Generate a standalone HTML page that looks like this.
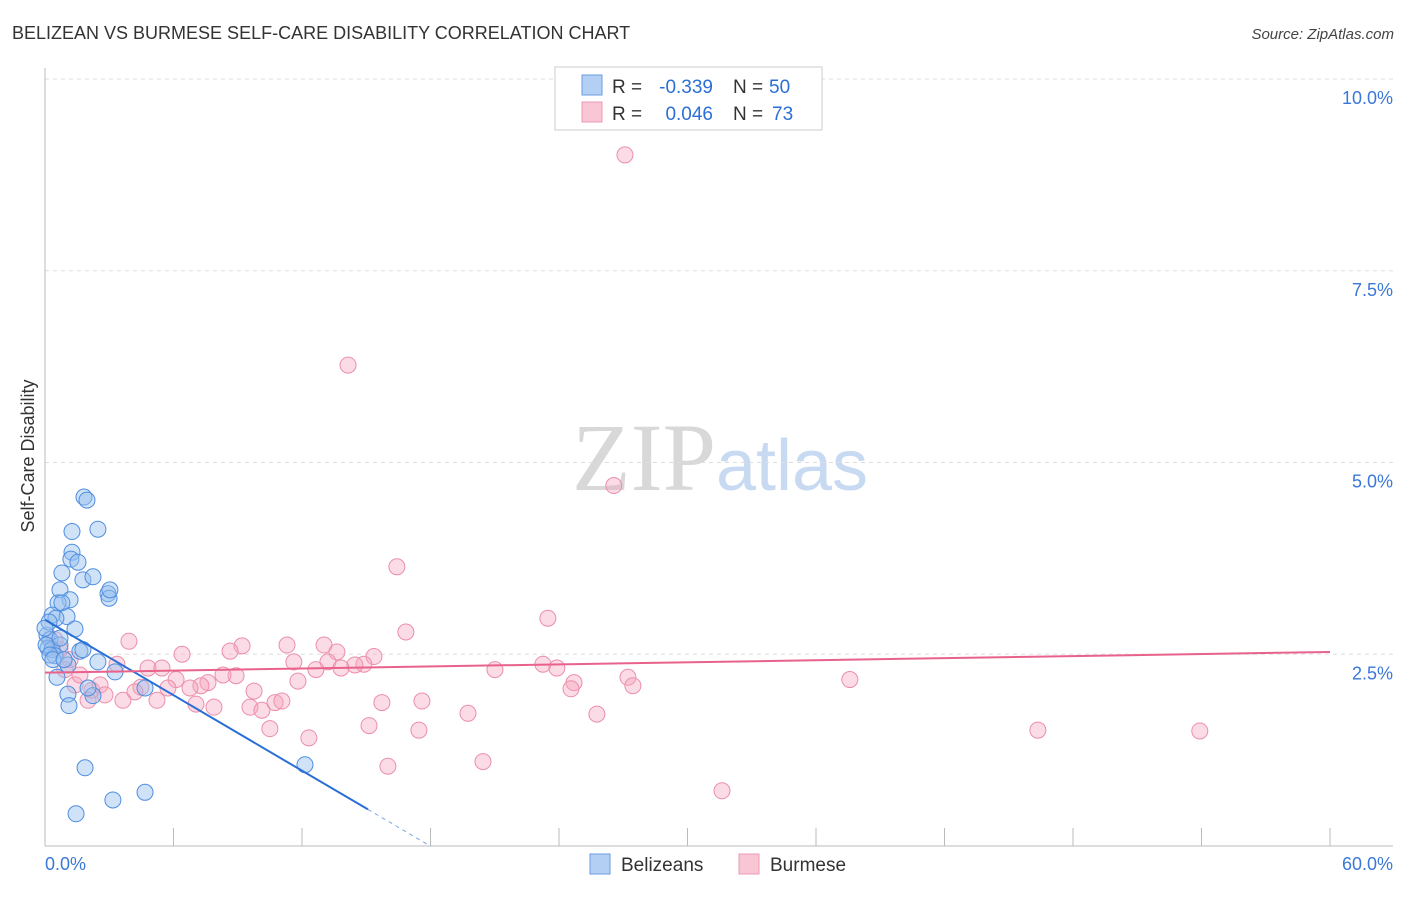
<!DOCTYPE html>
<html><head><meta charset="utf-8"><style>
body{margin:0;background:#fff;font-family:"Liberation Sans",sans-serif;}
svg text{font-family:"Liberation Sans",sans-serif;}
</style></head><body>
<svg id="chart" width="1406" height="892" viewBox="0 0 1406 892" xmlns="http://www.w3.org/2000/svg">
<text x="12" y="39" font-size="18" fill="#333">BELIZEAN VS BURMESE SELF-CARE DISABILITY CORRELATION CHART</text>
<text x="1394" y="39" font-size="15" fill="#444" font-style="italic" text-anchor="end">Source: ZipAtlas.com</text>
<text x="720" y="490" font-size="96" text-anchor="middle"><tspan fill="#d8d8d8" font-family="Liberation Serif,serif">ZIP</tspan><tspan fill="#c8daf2" font-size="72">atlas</tspan></text>
<g id="grid"></g><g id="axes"></g><g id="marks"></g>
<text transform="translate(34,456) rotate(-90)" font-size="18" fill="#333" text-anchor="middle">Self-Care Disability</text>
<g>
<rect x="555" y="67" width="267" height="63" fill="#fff" stroke="#ccc"/>
<rect x="582" y="75" width="20" height="20" fill="#b3cff3" stroke="#6a9de0"/>
<rect x="582" y="102" width="20" height="20" fill="#f8c6d4" stroke="#ee9ab2"/>
<text x="612" y="93" font-size="19" fill="#333">R =</text>
<text x="713" y="93" font-size="19" fill="#2b6fd6" text-anchor="end">-0.339</text>
<text x="733" y="93" font-size="19" fill="#333">N =</text>
<text x="769" y="93" font-size="19" fill="#2b6fd6">50</text>
<text x="612" y="120" font-size="19" fill="#333">R =</text>
<text x="713" y="120" font-size="19" fill="#2b6fd6" text-anchor="end">0.046</text>
<text x="733" y="120" font-size="19" fill="#333">N =</text>
<text x="772" y="120" font-size="19" fill="#2b6fd6">73</text>
</g>
<g>
<rect x="590" y="854" width="20" height="20" fill="#b3cff3" stroke="#6a9de0"/>
<text x="621" y="871" font-size="19" fill="#333">Belizeans</text>
<rect x="739" y="854" width="20" height="20" fill="#f8c6d4" stroke="#ee9ab2"/>
<text x="770" y="871" font-size="19" fill="#333">Burmese</text>
</g>
</svg>
<script>
const yTicks=[2.5,5,7.5,10];
const yTickLabels=["2.5%","5.0%","7.5%","10.0%"];
const xTickValues=[0,6,12,18,24,30,36,42,48,54,60];
const xEndLabels=["0.0%","60.0%"];
const blueX=[1.82,1.96,1.26,2.47,1.26,1.21,1.54,0.79,1.77,2.24,0.70,1.17,0.61,0.79,2.94,2.99,0.33,1.03,0.51,1.40,0.09,0.23,0.14,0.70,0.33,1.63,0.47,2.47,1.07,1.77,3.27,0.56,4.67,1.07,2.24,1.12,12.14,1.87,4.67,3.17,1.45,0.19,0.05,0.23,0.37,0.70,0.00,2.01,0.89,3.03];
const blueY=[4.55,4.51,4.10,4.13,3.83,3.74,3.70,3.56,3.47,3.51,3.34,3.21,3.17,3.17,3.29,3.23,3.01,2.99,2.97,2.83,2.75,2.69,2.58,2.62,2.56,2.54,2.48,2.40,2.36,2.56,2.27,2.20,2.06,1.98,1.96,1.83,1.06,1.02,0.70,0.60,0.42,2.92,2.62,2.49,2.43,2.71,2.84,2.06,2.43,3.34];
const pinkX=[27.08,14.15,26.56,16.43,23.48,16.85,3.92,9.20,11.30,13.03,13.63,8.64,6.40,15.36,11.62,13.21,14.89,14.47,13.82,23.25,23.90,21.01,4.81,5.46,3.36,12.65,27.22,37.58,27.45,24.70,24.56,8.92,8.31,7.61,6.12,7.28,6.77,5.74,4.48,11.81,9.76,4.20,3.64,5.23,7.05,7.89,9.57,10.13,10.74,11.06,15.73,17.60,19.75,25.77,15.13,10.50,17.46,12.32,46.36,53.92,20.45,16.01,31.61,1.17,0.93,1.40,1.63,2.19,2.57,0.70,2.01,2.80,0.47];
const pinkY=[9.01,6.27,4.70,3.64,2.97,2.79,2.67,2.61,2.62,2.62,2.53,2.54,2.50,2.47,2.40,2.40,2.37,2.36,2.32,2.37,2.32,2.30,2.32,2.32,2.37,2.30,2.20,2.17,2.09,2.13,2.05,2.22,2.23,2.13,2.17,2.09,2.06,2.06,2.07,2.15,2.02,2.01,1.90,1.90,1.85,1.81,1.81,1.77,1.87,1.89,1.87,1.89,1.73,1.72,1.57,1.53,1.51,1.41,1.51,1.50,1.10,1.04,0.72,2.43,2.30,2.10,2.23,2.03,2.10,2.56,1.90,1.97,2.69];
const blueTrend=[2.95,-0.164];
const pinkTrend=[2.26,0.0045];
const X0=45,X1=1330,Y0=846,YT=79;
const sx=v=>X0+v*(X1-X0)/60;
const sy=v=>Y0-v*(Y0-YT)/10;
const NS="http://www.w3.org/2000/svg";
function mk(parent,tag,attrs){const e=document.createElementNS(NS,tag);for(const k in attrs)e.setAttribute(k,attrs[k]);document.getElementById(parent).appendChild(e);return e;}
yTicks.forEach((t,i)=>{
 const l=mk('grid','line',{x1:X0,x2:1393,y1:sy(t),y2:sy(t),stroke:'#ddd','stroke-dasharray':'4,4'});
 
 
 const tx=mk('grid','text',{x:1393,y:sy(t)+25,'font-size':18,fill:'#3a78d8','text-anchor':'end'});
 tx.textContent=yTickLabels[i];
 
 
});
const ax=mk('axes','line',{x1:X0,x2:X0,y1:68,y2:Y0,stroke:'#bbb'});


const bx=mk('axes','line',{x1:X0,x2:1393,y1:Y0,y2:Y0,stroke:'#bbb'});


xTickValues.forEach(v=>{
 const t=mk('axes','line',{x1:sx(v),x2:sx(v),y1:Y0,y2:828,stroke:'#bbb'});
 
 
});
const xl0=mk('axes','text',{x:45,y:870,'font-size':18,fill:'#3a78d8'});xl0.textContent=xEndLabels[0];


const xl1=mk('axes','text',{x:1393,y:870,'font-size':18,fill:'#3a78d8','text-anchor':'end'});xl1.textContent=xEndLabels[1];


pinkX.forEach((x,i)=>{
 const c=mk('marks','circle',{cx:sx(x),cy:sy(pinkY[i]),r:8,fill:'rgba(244,166,189,0.4)',stroke:'#ec8fab','stroke-width':1});
 
 
});
blueX.forEach((x,i)=>{
 const c=mk('marks','circle',{cx:sx(x),cy:sy(blueY[i]),r:8,fill:'rgba(150,190,238,0.45)',stroke:'#4f8ee0','stroke-width':1});
 
 
});
const bEnd=15.08,bDash=18;
const bl=mk('marks','line',{x1:sx(0),y1:sy(blueTrend[0]),x2:sx(bEnd),y2:sy(blueTrend[0]+blueTrend[1]*bEnd),stroke:'#2b6fd6','stroke-width':2});


const bd=mk('marks','line',{x1:sx(bEnd),y1:sy(blueTrend[0]+blueTrend[1]*bEnd),x2:sx(bDash),y2:sy(blueTrend[0]+blueTrend[1]*bDash),stroke:'#7aa6e4','stroke-width':1,'stroke-dasharray':'4,4'});


const pl=mk('marks','line',{x1:sx(0),y1:sy(pinkTrend[0]),x2:sx(60),y2:sy(pinkTrend[0]+pinkTrend[1]*60),stroke:'#e8628c','stroke-width':2});


</script>
</body></html>
